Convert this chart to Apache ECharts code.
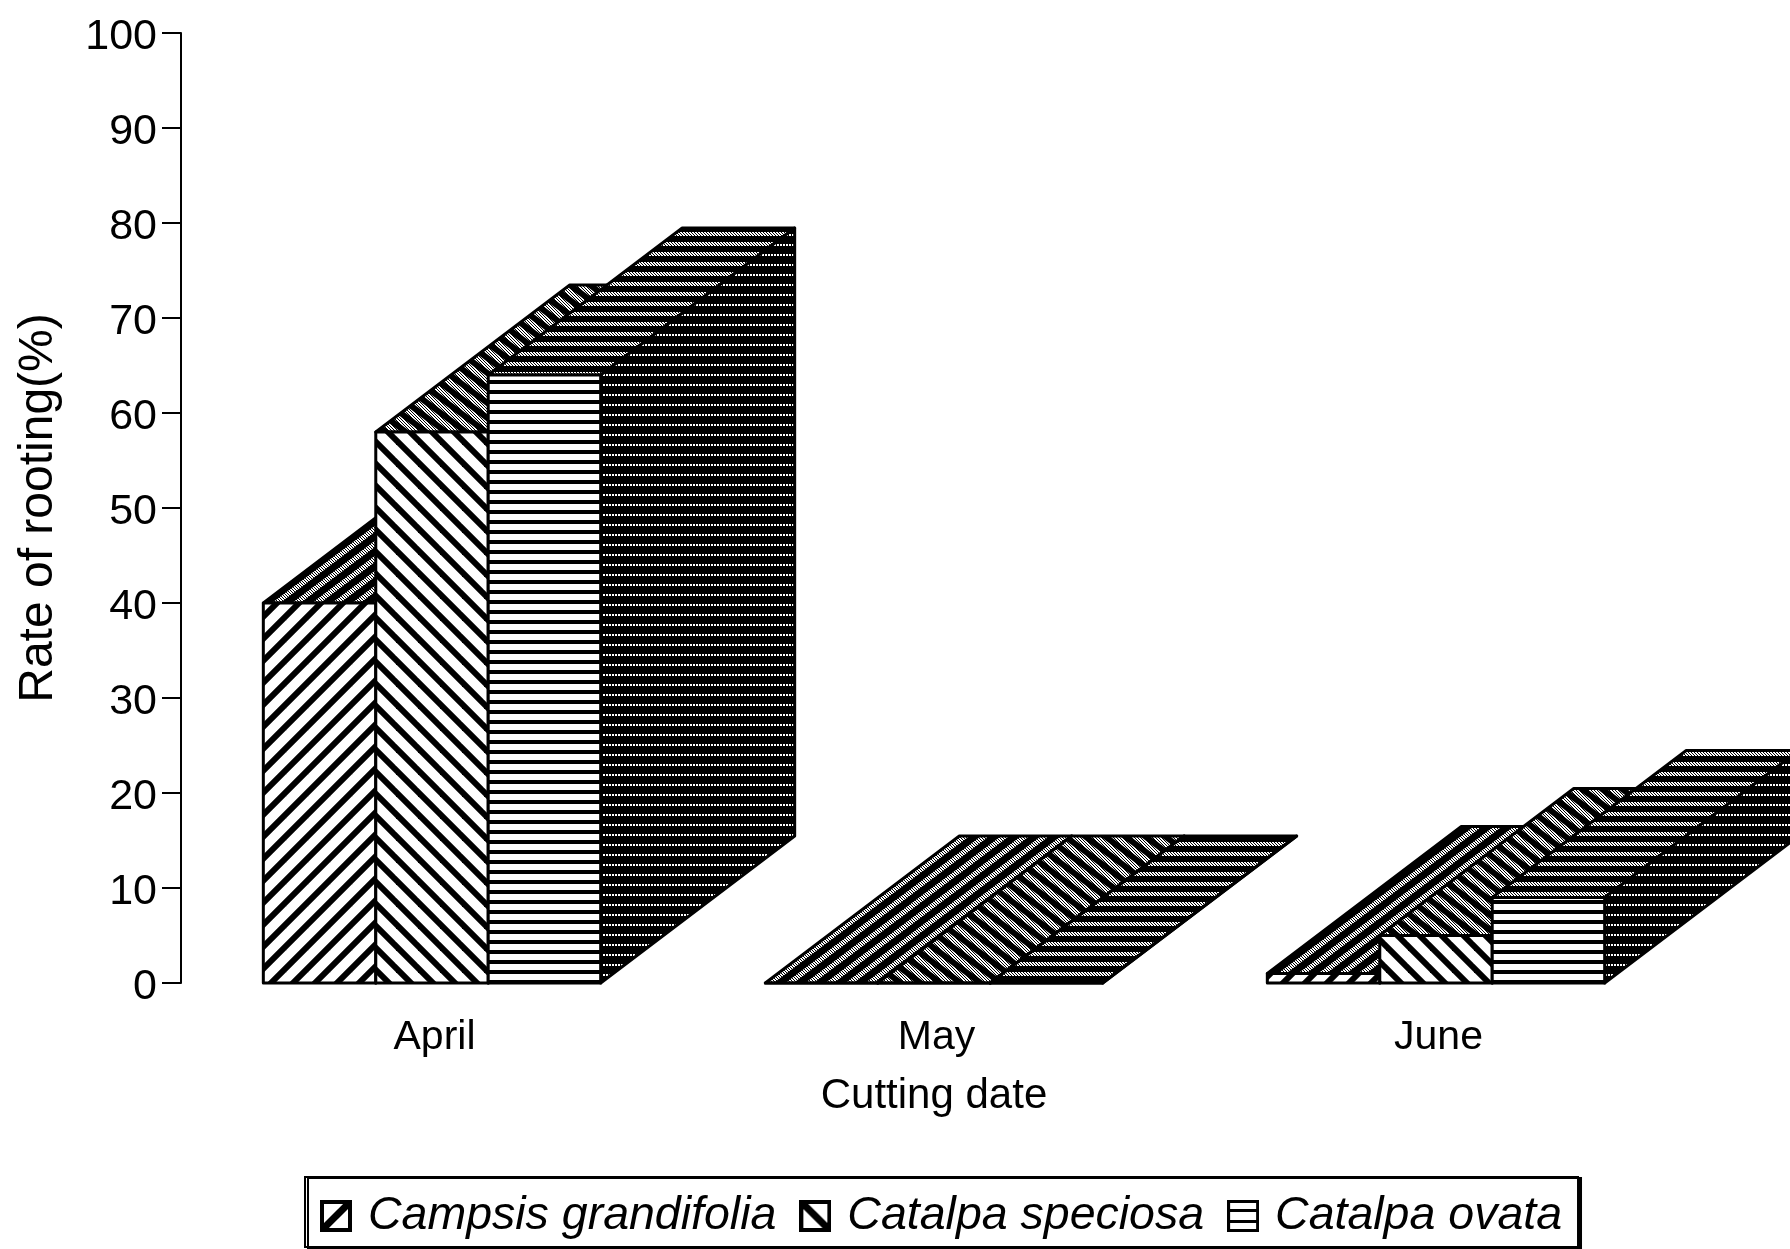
<!DOCTYPE html>
<html>
<head>
<meta charset="utf-8">
<style>
  html, body { margin: 0; padding: 0; background: #fff; overflow: hidden; }
  #chart { width: 1790px; height: 1249px; }
</style>
<script src="https://cdn.jsdelivr.net/npm/echarts@6/dist/echarts.min.js"></script>
</head>
<body>
<div id="chart"></div>
<script>
const categories = ['April', 'May', 'June'];
const speciesNames = ['Campsis grandifolia', 'Catalpa speciosa', 'Catalpa ovata'];
const campsis = [40, 0, 1];
const speciosa = [58, 0, 5];
const ovata = [64, 0, 9];

const FONT = '"Liberation Sans", Arial, sans-serif';
const BAR_RATIO = 0.224;   // one bar as a share of the category band
const DEPTH_X = 194;
const DEPTH_Y = 147;

// builds a repeating fill; the halftone option pokes the printed-dot look into white strokes
function tile (w, h, draw, halftone) {
  const c = document.createElement('canvas');
  c.width = w;
  c.height = h;
  const ctx = c.getContext('2d');
  ctx.fillStyle = halftone ? '#000' : '#fff';
  ctx.fillRect(0, 0, w, h);
  draw(ctx);
  if (halftone) {
    ctx.fillStyle = '#000';
    for (let y = 0; y < h; y++) {
      for (let x = 0; x < w; x++) {
        if ((x + 2 * y) % 3 === 0) ctx.fillRect(x, y, 1, 1);
      }
    }
  }
  return { image: c, repeat: 'repeat' };
}

// diagonal lines, drawn over and past the tile so they wrap at the edges
function diagonal (ctx, w, h, n, up, width, color) {
  ctx.strokeStyle = color;
  ctx.lineWidth = width;
  for (let k = -n; k <= n; k++) {
    const ox = k * w / n;
    ctx.beginPath();
    if (up) {
      ctx.moveTo(ox - w / n, h + h / n);
      ctx.lineTo(ox + w + w / n, -h / n);
    } else {
      ctx.moveTo(ox - w / n, -h / n);
      ctx.lineTo(ox + w + w / n, h + h / n);
    }
    ctx.stroke();
  }
}

const frontFills = [
  tile(22, 22, ctx => diagonal(ctx, 22, 22, 1, true, 6, '#000')),
  tile(22, 22, ctx => diagonal(ctx, 22, 22, 1, false, 6, '#000')),
  tile(10, 10, ctx => { ctx.fillStyle = '#000'; ctx.fillRect(0, 0, 10, 4); })
];
const topFills = [
  tile(60, 45, ctx => diagonal(ctx, 60, 45, 3, true, 5, '#fff'), true),
  tile(60, 45, ctx => diagonal(ctx, 60, 45, 3, false, 6, '#fff'), true),
  tile(60, 30, ctx => {
    ctx.fillStyle = '#fff';
    for (let y = 2; y < 30; y += 10) ctx.fillRect(0, y, 60, 4);
  }, true)
];
const sideFill = tile(21, 10, ctx => {
  ctx.fillStyle = '#000';
  ctx.fillRect(0, 0, 21, 10);
  ctx.fillStyle = '#fff';
  for (let x = 0; x < 21; x += 3) ctx.fillRect(x, 4, 2, 2);
});

function legendIcon (kind) {
  const c = document.createElement('canvas');
  c.width = 32;
  c.height = 32;
  const ctx = c.getContext('2d');
  ctx.fillStyle = '#fff';
  ctx.fillRect(0, 0, 32, 32);
  ctx.strokeStyle = '#000';
  ctx.fillStyle = '#000';
  ctx.lineWidth = 7;
  ctx.beginPath();
  if (kind === 0) {
    ctx.moveTo(2, 30);
    ctx.lineTo(30, 2);
    ctx.stroke();
  } else if (kind === 1) {
    ctx.moveTo(2, 2);
    ctx.lineTo(30, 30);
    ctx.stroke();
  } else {
    ctx.fillRect(0, 9, 32, 3);
    ctx.fillRect(0, 20, 32, 3);
  }
  ctx.lineWidth = kind === 2 ? 3 : 5;
  ctx.strokeRect(1.5, 1.5, 29, 29);
  return 'image://' + c.toDataURL();
}

function renderBar (seriesIndex) {
  return function (params, api) {
    const bottom = api.coord([api.value(0), 0]);
    const top = api.coord([api.value(0), api.value(1)]);
    const band = api.size([1, 0])[0];
    const w = band * BAR_RATIO;
    const x0 = bottom[0] + (seriesIndex - 1.5) * w;
    const x1 = x0 + w;
    const stroke = { stroke: '#000', lineWidth: 3, lineJoin: 'round' };
    return {
      type: 'group',
      children: [
        {
          type: 'polygon',
          shape: { points: [[x0, top[1]], [x1, top[1]], [x1 + DEPTH_X, top[1] - DEPTH_Y], [x0 + DEPTH_X, top[1] - DEPTH_Y]] },
          style: Object.assign({ fill: topFills[seriesIndex] }, stroke)
        },
        {
          type: 'polygon',
          shape: { points: [[x1, bottom[1]], [x1 + DEPTH_X, bottom[1] - DEPTH_Y], [x1 + DEPTH_X, top[1] - DEPTH_Y], [x1, top[1]]] },
          style: Object.assign({ fill: sideFill }, stroke)
        },
        {
          type: 'rect',
          shape: { x: x0, y: top[1], width: w, height: bottom[1] - top[1] },
          style: Object.assign({ fill: frontFills[seriesIndex] }, stroke)
        }
      ]
    };
  };
}

const seriesValues = [campsis, speciosa, ovata];

const option = {
  backgroundColor: '#fff',
  animation: false,
  grid: { left: 181, top: 33, width: 1506, height: 950 },
  legend: {
    left: 305,
    top: 1177,
    orient: 'horizontal',
    padding: [12, 16, 4, 15],
    itemWidth: 32,
    itemHeight: 32,
    itemGap: 23,
    backgroundColor: '#fff',
    borderColor: '#000',
    borderWidth: 2,
    shadowColor: '#000',
    shadowBlur: 0,
    shadowOffsetX: 3,
    shadowOffsetY: 1,
    textStyle: {
      fontFamily: FONT,
      fontStyle: 'italic',
      fontSize: 46.5,
      lineHeight: 46,
      color: '#000',
      padding: [8, 0, 0, 11]
    },
    data: speciesNames.map((name, i) => ({ name: name, icon: legendIcon(i) }))
  },
  xAxis: {
    type: 'category',
    data: categories,
    name: 'Cutting date',
    nameLocation: 'middle',
    nameGap: 92,
    nameTextStyle: { fontFamily: FONT, fontSize: 42, color: '#000' },
    axisLine: { show: false },
    axisTick: { show: false },
    axisLabel: { fontFamily: FONT, fontSize: 41, color: '#000', margin: 34, padding: [0, 0, 0, 5] }
  },
  yAxis: {
    type: 'value',
    min: 0,
    max: 100,
    interval: 10,
    name: 'Rate of rooting(%)',
    nameLocation: 'middle',
    nameGap: 118,
    nameRotate: 90,
    nameTextStyle: { fontFamily: FONT, fontSize: 48, color: '#000' },
    splitLine: { show: false },
    axisLine: { show: true, lineStyle: { color: '#000', width: 2 } },
    axisTick: { show: true, length: 19, lineStyle: { color: '#000', width: 2 } },
    axisLabel: { fontFamily: FONT, fontSize: 43, color: '#000', margin: 24, verticalAlign: 'top', lineHeight: 8 }
  },
  series: speciesNames.map((name, i) => ({
    name: name,
    type: 'custom',
    coordinateSystem: 'cartesian2d',
    renderItem: renderBar(i),
    encode: { x: 0, y: 1 },
    z: 2 + i,
    data: seriesValues[i].map((v, k) => [k, v])
  }))
};

const chart = echarts.init(document.getElementById('chart'), null, { renderer: 'canvas' });
chart.setOption(option);
</script>
</body>
</html>
